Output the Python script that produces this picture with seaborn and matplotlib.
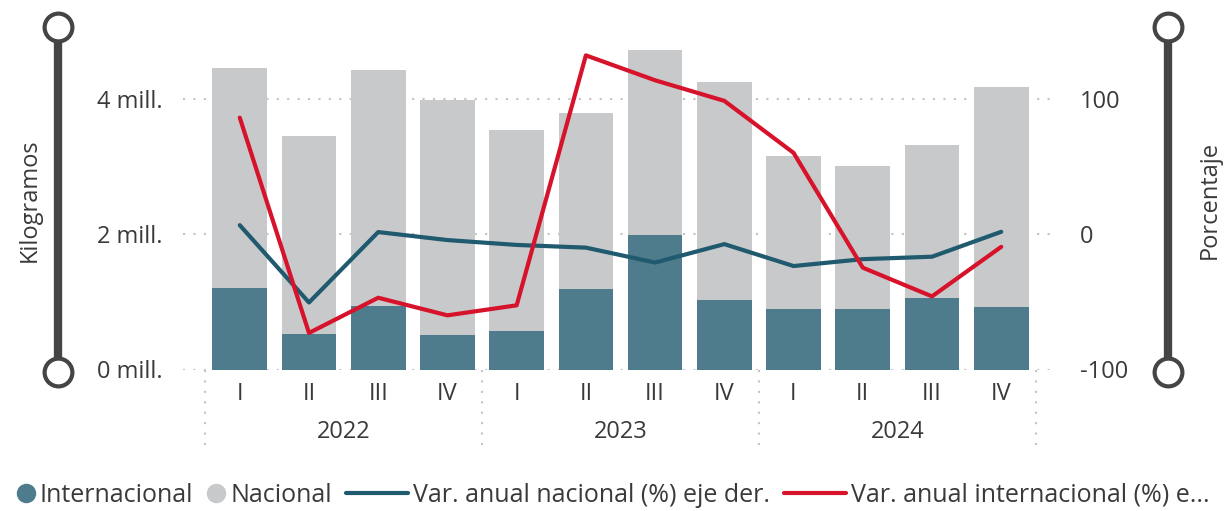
import numpy as np
import pandas as pd
import matplotlib
matplotlib.use("Agg")
import matplotlib.pyplot as plt
import seaborn as sns
from matplotlib.lines import Line2D
from matplotlib.legend_handler import HandlerLine2D
import matplotlib.transforms as mtransforms

# ---------------- data ----------------
years = ["2022", "2023", "2024"]
quarters = ["I", "II", "III", "IV"]
internacional = [1.20, 0.52, 0.94, 0.51, 0.57, 1.19, 1.99, 1.03, 0.90, 0.90, 1.06, 0.93]   # mill. kg
nacional = [3.25, 2.93, 3.48, 3.47, 2.97, 2.60, 2.73, 3.21, 2.25, 2.11, 2.26, 3.24]        # mill. kg
var_nacional = [6.6, -50.5, 1.5, -4.4, -8.0, -10.0, -21.0, -7.4, -23.6, -18.5, -16.7, 1.7]  # %
var_internacional = [86.0, -73.0, -47.0, -60.0, -52.6, 132.0, 113.6, 98.4, 60.0, -24.8, -46.0, -9.4]  # %

labels = [f"{y} {q}" for y in years for q in quarters]
df = pd.DataFrame({
    "periodo": labels,
    "Internacional": internacional,
    "Nacional": nacional,
    "var_nac": var_nacional,
    "var_int": var_internacional,
})
df["total"] = df["Internacional"] + df["Nacional"]
df["pos"] = np.arange(len(df))

C_INT = "#4E7C8D"
C_NAC = "#C8C9CB"
C_LNAC = "#1F5A6E"
C_LINT = "#D7132B"
TXT = "#3A3A3A"
GRID = "#C4C4C4"

sns.set_theme(style="white")
plt.rcParams["font.family"] = ["Open Sans", "DejaVu Sans"]

W, H = 1225, 511
fig = plt.figure(figsize=(W / 100, H / 100), dpi=100)
ax_l, ax_r, ax_t, ax_b = 183, 1058, 31, 369.5
ax = fig.add_axes([ax_l / W, 1 - ax_b / H, (ax_r - ax_l) / W, (ax_b - ax_t) / H])

# stacked bars: total (nacional on top) then internacional at bottom
sns.barplot(data=df, x="periodo", y="total", order=labels, color=C_NAC,
            width=0.79, saturation=1, ax=ax, zorder=2, linewidth=0, edgecolor="none")
sns.barplot(data=df, x="periodo", y="Internacional", order=labels, color=C_INT,
            width=0.79, saturation=1, ax=ax, zorder=3, linewidth=0, edgecolor="none")

n = len(labels)
ax.set_xlim(-0.82, n - 1 + 0.82)
ax.set_ylim(0, 5)
ax.set_yticks([0, 2, 4])
ax.set_yticklabels([f"{v} mill." for v in [0, 2, 4]])
ax.set_xticks(range(n))
ax.set_xticklabels(quarters * len(years))
ax.set_xlabel("")
ax.set_ylabel("")
ax.set_axisbelow(True)
ax.yaxis.grid(True, color=GRID, linestyle=(0, (1, 4)), linewidth=1.5)
ax.xaxis.grid(False)
for s in ax.spines.values():
    s.set_visible(False)
ax.tick_params(axis="y", length=0, pad=15, labelsize=17, labelcolor=TXT)
ax.tick_params(axis="x", length=0, pad=9, labelsize=17, labelcolor=TXT)

# secondary axis with lines
ax2 = ax.twinx()
sns.lineplot(data=df, x="pos", y="var_nac", color=C_LNAC, linewidth=3, ax=ax2)
sns.lineplot(data=df, x="pos", y="var_int", color=C_LINT, linewidth=3, ax=ax2)
ax2.set_ylim(-100, 150)
ax2.set_yticks([-100, 0, 100])
ax2.set_yticklabels(["-100", "0", "100"])
ax2.set_xlabel("")
ax2.set_ylabel("")
for s in ax2.spines.values():
    s.set_visible(False)
ax2.tick_params(axis="y", length=0, pad=16, labelsize=17, labelcolor=TXT)
ax2.grid(False)
ax.set_xlim(-0.82, n - 1 + 0.82)

# year group labels and separators below the axis
trans = mtransforms.blended_transform_factory(ax.transData, ax.transAxes)
axh = ax_b - ax_t
for i, y in enumerate(years):
    ax.text(i * 4 + 1.5, -(432 - ax_b) / axh, y, transform=trans, ha="center",
            va="center", fontsize=17, color=TXT)
for b in np.arange(len(years) + 1) * 4 - 0.5:
    ax.plot([b, b], [0, -(452 - ax_b) / axh], transform=trans, clip_on=False,
            color=GRID, linestyle=(0, (1, 4)), linewidth=1.5)

# axis titles
fig.text(30 / W, 1 - 200 / H, "Kilogramos", rotation=90, ha="center", va="center",
         fontsize=17, color=TXT)
fig.text(1210 / W, 1 - 200 / H, "Porcentaje", rotation=90, ha="center", va="center",
         fontsize=17, color=TXT)

# slider decorations (Power BI zoom sliders)
SL = "#454545"
for xs in (58, 1168):
    fig.add_artist(Line2D([xs / W, xs / W], [1 - 27 / H, 1 - 372 / H],
                          transform=fig.transFigure, color=SL, linewidth=6, zorder=5))
    for ys in (27, 372):
        fig.add_artist(Line2D([xs / W], [1 - ys / H], transform=fig.transFigure,
                              marker="o", markersize=20, markerfacecolor="white",
                              markeredgecolor=SL, markeredgewidth=3, linestyle="none",
                              zorder=6))


# legend
class SmallMarkerHandler(HandlerLine2D):
    def legend_artist(self, legend, orig_handle, fontsize, handlebox):
        handlebox.width = 0.72 * fontsize
        return super().legend_artist(legend, orig_handle, fontsize, handlebox)


h_int = Line2D([], [], marker="o", linestyle="none", markersize=13,
               markerfacecolor=C_INT, markeredgecolor=C_INT)
h_nac = Line2D([], [], marker="o", linestyle="none", markersize=13,
               markerfacecolor=C_NAC, markeredgecolor=C_NAC)
h_lnac = Line2D([], [], color=C_LNAC, linewidth=3)
h_lint = Line2D([], [], color=C_LINT, linewidth=3)
leg = fig.legend([h_int, h_nac, h_lnac, h_lint],
                 ["Internacional", "Nacional", "Var. anual nacional (%) eje der.",
                  "Var. anual internacional (%) e..."],
                 loc="center left", bbox_to_anchor=(17 / W, 1 - 495 / H), ncol=4,
                 frameon=False, fontsize=18, handlelength=2.5, handletextpad=0.2,
                 columnspacing=0.55, borderaxespad=0, borderpad=0,
                 handler_map={h_int: SmallMarkerHandler(), h_nac: SmallMarkerHandler()})
for t in leg.get_texts():
    t.set_color(TXT)

fig.savefig("out.png", dpi=100)
